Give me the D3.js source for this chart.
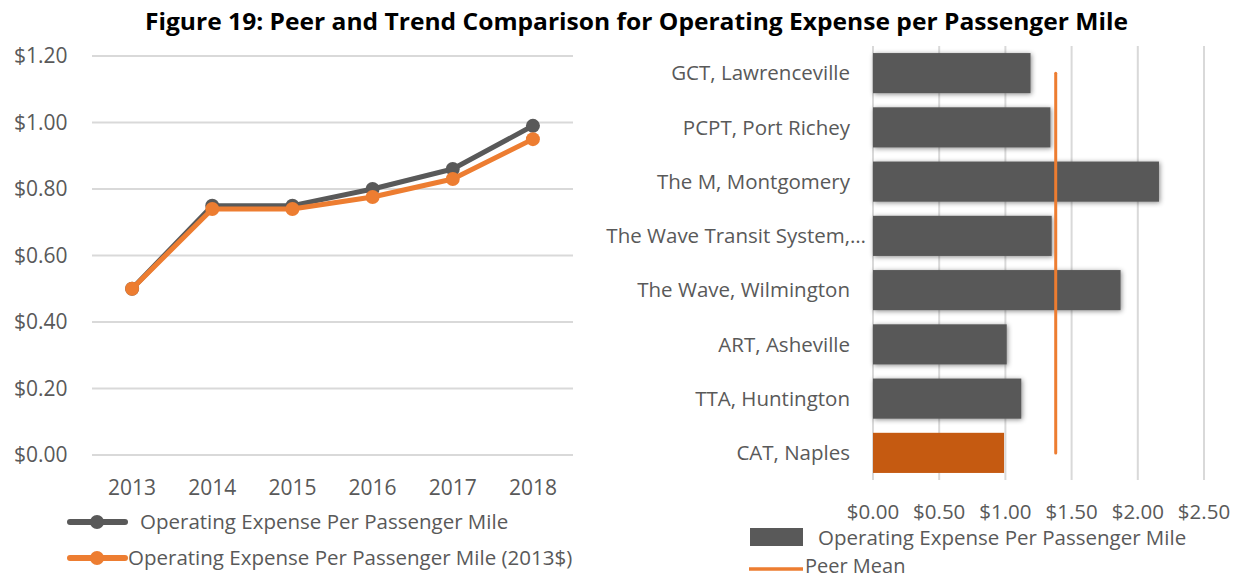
<!DOCTYPE html>
<html>
<head>
<meta charset="utf-8">
<script src="https://cdn.jsdelivr.net/npm/d3@7"></script>
<style>
  body { margin: 0; background: #fff; }
  text { font-family: "Open Sans", sans-serif; fill: #595959; }
  .title { font-weight: bold; fill: #000; }
</style>
</head>
<body>
<div id="chart"></div>
<script>
// trend data
var years = ["2013", "2014", "2015", "2016", "2017", "2018"];
var expNominal = [0.50, 0.75, 0.75, 0.80, 0.86, 0.99];
var expReal = [0.50, 0.74, 0.74, 0.776, 0.83, 0.95];
var yTicks = [0, 0.2, 0.4, 0.6, 0.8, 1.0, 1.2];

// peer data
var peers = ["GCT, Lawrenceville", "PCPT, Port Richey", "The M, Montgomery",
  "The Wave Transit System,…", "The Wave, Wilmington", "ART, Asheville",
  "TTA, Huntington", "CAT, Naples"];
var peerValues = [1.19, 1.34, 2.16, 1.35, 1.87, 1.01, 1.12, 0.99];
var peerMean = 1.38;
var xTicks = [0, 0.5, 1.0, 1.5, 2.0, 2.5];

var gray = "#595959", orange = "#ED7D31", darkOrange = "#C55A11", grid = "#d9d9d9";

var svg = d3.select("#chart").append("svg")
  .attr("width", 1238)
  .attr("height", 580);

var defs = svg.append("defs");
defs.append("filter")
    .attr("id", "shadow")
    .attr("x", "-10%").attr("y", "-30%")
    .attr("width", "120%").attr("height", "160%")
  .append("feDropShadow")
    .attr("dx", 1).attr("dy", 1)
    .attr("stdDeviation", 2.5)
    .attr("flood-color", "#000")
    .attr("flood-opacity", 0.45);

svg.append("text")
  .attr("class", "title")
  .attr("x", 145)
  .attr("y", 30)
  .attr("textLength", 983)
  .attr("lengthAdjust", "spacingAndGlyphs")
  .style("font-size", "23.5px")
  .text("Figure 19: Peer and Trend Comparison for Operating Expense per Passenger Mile");

/* left: line chart */
var x = d3.scaleBand().domain(years).range([92, 573]),
    y = d3.scaleLinear().domain([0, 1.2]).range([455, 56]);

var gL = svg.append("g");

gL.selectAll("line.grid")
  .data(yTicks)
  .enter().append("line")
    .attr("class", "grid")
    .attr("x1", 92).attr("x2", 573)
    .attr("y1", function(d) { return y(d); })
    .attr("y2", function(d) { return y(d); })
    .attr("stroke", grid)
    .attr("stroke-width", 2);

gL.selectAll("text.ytick")
  .data(yTicks)
  .enter().append("text")
    .attr("class", "ytick")
    .attr("x", 14)
    .attr("y", function(d) { return y(d); })
    .attr("dy", "0.35em")
    .style("font-size", "21px")
    .text(function(d) { return "$" + d.toFixed(2); });

gL.selectAll("text.xtick")
  .data(years)
  .enter().append("text")
    .attr("class", "xtick")
    .attr("x", function(d) { return x(d) + x.bandwidth() / 2; })
    .attr("y", 495)
    .attr("text-anchor", "middle")
    .style("font-size", "21px")
    .text(function(d) { return d; });

function drawSeries(values, color) {
  var line = d3.line()
    .x(function(d, i) { return x(years[i]) + x.bandwidth() / 2; })
    .y(function(d) { return y(d); });

  gL.append("path").datum(values)
    .attr("d", line)
    .attr("fill", "none")
    .attr("stroke", color)
    .attr("stroke-width", 5)
    .attr("stroke-linejoin", "round");

  gL.append("g").selectAll("circle")
    .data(values)
    .enter().append("circle")
      .attr("cx", function(d, i) { return x(years[i]) + x.bandwidth() / 2; })
      .attr("cy", function(d) { return y(d); })
      .attr("r", 7)
      .attr("fill", color);
}
drawSeries(expNominal, gray);
drawSeries(expReal, orange);

var legL = [
  {label: "Operating Expense Per Passenger Mile", color: gray, y: 522, tx: 140},
  {label: "Operating Expense Per Passenger Mile (2013$)", color: orange, y: 558, tx: 128}
];
legL.forEach(function(d) {
  gL.append("line")
    .attr("x1", 70).attr("x2", 125)
    .attr("y1", d.y).attr("y2", d.y)
    .attr("stroke", d.color)
    .attr("stroke-width", 6)
    .attr("stroke-linecap", "round");
  gL.append("circle")
    .attr("cx", 97).attr("cy", d.y).attr("r", 7)
    .attr("fill", d.color);
  gL.append("text")
    .attr("x", d.tx).attr("y", d.y)
    .attr("dy", "0.35em")
    .style("font-size", "20.5px")
    .text(d.label);
});

/* right: bar chart */
var xb = d3.scaleLinear().domain([0, 2.5]).range([873, 1204]),
    yb = d3.scaleBand().domain(peers).range([46, 480]).paddingInner(0.26).paddingOuter(0.13);

var gR = svg.append("g");

gR.selectAll("line.grid")
  .data(xTicks)
  .enter().append("line")
    .attr("class", "grid")
    .attr("x1", function(d) { return xb(d); })
    .attr("x2", function(d) { return xb(d); })
    .attr("y1", 46).attr("y2", 480)
    .attr("stroke", grid)
    .attr("stroke-width", 2);

gR.selectAll("rect.bar")
  .data(peers)
  .enter().append("rect")
    .attr("class", "bar")
    .attr("x", xb(0))
    .attr("y", function(d) { return yb(d); })
    .attr("width", function(d, i) { return xb(peerValues[i]) - xb(0); })
    .attr("height", yb.bandwidth())
    .attr("fill", function(d, i) { return i === peers.length - 1 ? darkOrange : gray; })
    .attr("filter", function(d, i) { return i === peers.length - 1 ? null : "url(#shadow)"; });

gR.append("line")
  .attr("x1", xb(peerMean)).attr("x2", xb(peerMean))
  .attr("y1", yb(peers[0]) + yb.bandwidth() / 2)
  .attr("y2", yb(peers[peers.length - 1]) + yb.bandwidth() / 2)
  .attr("stroke", orange)
  .attr("stroke-width", 3)
  .attr("stroke-linecap", "round");

// truncated labels overhang a little, as in the original
gR.selectAll("text.cat")
  .data(peers)
  .enter().append("text")
    .attr("class", "cat")
    .attr("x", function(d) { return d.slice(-1) === "…" ? 866 : 850; })
    .attr("y", function(d) { return yb(d) + yb.bandwidth() / 2; })
    .attr("dy", "0.35em")
    .attr("text-anchor", "end")
    .style("font-size", "20.5px")
    .text(function(d) { return d; });

gR.selectAll("text.xtick")
  .data(xTicks)
  .enter().append("text")
    .attr("class", "xtick")
    .attr("x", function(d) { return xb(d); })
    .attr("y", 519)
    .attr("text-anchor", "middle")
    .style("font-size", "20.5px")
    .text(function(d) { return "$" + d.toFixed(2); });

gR.append("rect")
  .attr("x", 750).attr("y", 528)
  .attr("width", 53).attr("height", 18)
  .attr("fill", gray);
gR.append("text")
  .attr("x", 818).attr("y", 538)
  .attr("dy", "0.35em")
  .style("font-size", "20.5px")
  .text("Operating Expense Per Passenger Mile");

gR.append("line")
  .attr("x1", 749).attr("x2", 803)
  .attr("y1", 569).attr("y2", 569)
  .attr("stroke", orange)
  .attr("stroke-width", 3.5);
gR.append("text")
  .attr("x", 805).attr("y", 566)
  .attr("dy", "0.35em")
  .style("font-size", "20px")
  .text("Peer Mean");
</script>
</body>
</html>
